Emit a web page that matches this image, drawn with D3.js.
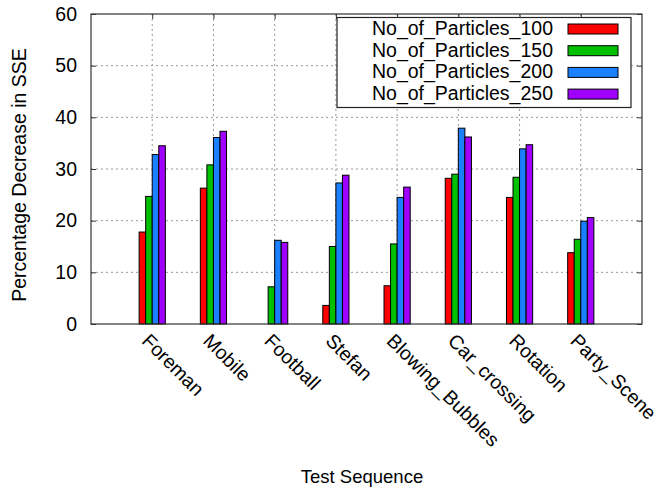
<!DOCTYPE html>
<html>
<head>
<meta charset="utf-8">
<script src="https://cdn.jsdelivr.net/npm/d3@7"></script>
<style>
  body { margin: 0; background: #fff; }
  svg text { font-family: "Liberation Sans", Arial, sans-serif; fill: #000; }
</style>
</head>
<body>
<div id="chart-area"></div>
<script>
// categories and series
var sequences = ["Foreman", "Mobile", "Football", "Stefan", "Blowing_Bubbles", "Car_crossing", "Rotation", "Party_Scene"];
var seriesNames = ["No_of_Particles_100", "No_of_Particles_150", "No_of_Particles_200", "No_of_Particles_250"];
var seriesColors = ["#ff0000", "#00c000", "#1a80ff", "#a000ff"];

var p100 = [17.8, 26.3, 0, 3.6, 7.4, 28.2, 24.5, 13.8];
var p150 = [24.7, 30.8, 7.2, 15.0, 15.5, 29.0, 28.4, 16.4];
var p200 = [32.8, 36.1, 16.2, 27.3, 24.5, 37.9, 33.9, 19.9];
var p250 = [34.5, 37.3, 15.8, 28.8, 26.5, 36.2, 34.7, 20.6];

var yTicks = [0, 10, 20, 30, 40, 50, 60];

var seriesValues = [p100, p150, p200, p250];

// sizes
var margin = { top: 14, left: 91, bottom: 169, right: 18 };
var svgWidth = 660;
var svgHeight = 493;
var width = svgWidth - margin.left - margin.right;
var height = svgHeight - margin.top - margin.bottom;

var svg = d3.select("#chart-area").append("svg")
            .attr("width", svgWidth)
            .attr("height", svgHeight);

var graph = svg.append("g")
               .attr("transform", "translate(" + margin.left + "," + margin.top + ")");

// scales: categories sit at 1..8 on a 0..9 range (gnuplot style)
var xScale = d3.scaleLinear().domain([0, sequences.length + 1]).range([0, width]);
var yScale = d3.scaleLinear().domain([0, 60]).range([height, 0]);
var barW = 0.107; // in x units

// grid
graph.append("g")
     .selectAll("line")
     .data(yTicks.filter(d => d > 0 && d < 60))
     .enter().append("line")
     .attr("x1", 0).attr("x2", width)
     .attr("y1", d => yScale(d)).attr("y2", d => yScale(d))
     .attr("stroke", "#999").attr("stroke-dasharray", "2,3");

graph.append("g")
     .selectAll("line")
     .data(sequences)
     .enter().append("line")
     .attr("x1", (d, i) => xScale(i + 1)).attr("x2", (d, i) => xScale(i + 1))
     .attr("y1", 0).attr("y2", height)
     .attr("stroke", "#999").attr("stroke-dasharray", "2,3");

// bars (zero values are not drawn)
seriesValues.forEach(function(vals, s) {
	var pts = vals.map((v, i) => ({ v: v, i: i })).filter(d => d.v > 0);
	graph.append("g")
		 .selectAll("rect")
		 .data(pts)
		 .enter().append("rect")
		 .attr("x", d => xScale(d.i + 1 + (s - 2) * barW))
		 .attr("y", d => yScale(d.v))
		 .attr("width", xScale(barW) - xScale(0))
		 .attr("height", d => yScale(0) - yScale(d.v))
		 .attr("fill", seriesColors[s])
		 .attr("stroke", "#000")
		 .attr("stroke-width", 1);
});

// axes
var yAxisCall = d3.axisLeft(yScale).tickValues(yTicks).tickSizeInner(-5).tickSizeOuter(0).tickPadding(14);
var yAxis = graph.append("g").attr("class", "y-axis").call(yAxisCall);
yAxis.select(".domain").remove();
yAxis.selectAll("line").attr("stroke", "#333");
yAxis.selectAll("text").attr("font-size", "19.5px").attr("fill", "#000")
     .style("font-family", "Liberation Sans, Arial, sans-serif");

var yRight = graph.append("g").attr("transform", "translate(" + width + ",0)")
                  .call(d3.axisRight(yScale).tickValues(yTicks).tickSizeInner(-5).tickSizeOuter(0).tickFormat(""));
yRight.select(".domain").remove();
yRight.selectAll("line").attr("stroke", "#333");

var xTop = graph.append("g")
                .call(d3.axisTop(xScale).tickValues(d3.range(1, sequences.length + 1)).tickSizeInner(-5).tickSizeOuter(0).tickFormat(""));
xTop.select(".domain").remove();
xTop.selectAll("line").attr("stroke", "#333");

var xAxisCall = d3.axisBottom(xScale)
                  .tickValues(d3.range(1, sequences.length + 1))
                  .tickSizeInner(0).tickSizeOuter(0)
                  .tickFormat(d => sequences[d - 1]);
var xAxis = graph.append("g").attr("class", "x-axis")
                 .attr("transform", "translate(0," + height + ")")
                 .call(xAxisCall);
xAxis.select(".domain").remove();
xAxis.selectAll("text")
     .attr("x", 0).attr("y", 0).attr("dy", 0)
     .attr("text-anchor", "start")
     .attr("transform", "translate(-12,18) rotate(45)")
     .attr("font-size", "19.5px").attr("fill", "#000")
     .style("font-family", "Liberation Sans, Arial, sans-serif");

// border
graph.append("rect")
     .attr("width", width).attr("height", height)
     .attr("fill", "none").attr("stroke", "#333").attr("stroke-width", 1.2);

// axis labels
svg.append("text")
   .attr("transform", "translate(26,175) rotate(-90)")
   .attr("text-anchor", "middle")
   .attr("font-size", "19.5px")
   .text("Percentage Decrease in SSE");

svg.append("text")
   .attr("x", 362).attr("y", 483)
   .attr("text-anchor", "middle")
   .attr("font-size", "18.5px")
   .text("Test Sequence");

// legend
var legend = svg.append("g");
legend.append("rect")
      .attr("x", 337).attr("y", 17.5).attr("width", 294).attr("height", 90)
      .attr("fill", "#fff").attr("stroke", "#222").attr("stroke-width", 1.2);

var rows = legend.selectAll("g.row")
                 .data(seriesNames)
                 .enter().append("g")
                 .attr("class", "row")
                 .attr("transform", (d, i) => "translate(0," + (35 + i * 21.7) + ")");
rows.append("text")
    .attr("x", 553).attr("y", 0)
    .attr("text-anchor", "end")
    .attr("font-size", "19.5px")
    .text(d => d);
rows.append("rect")
    .attr("x", 568).attr("y", -11).attr("width", 50).attr("height", 10)
    .attr("fill", (d, i) => seriesColors[i])
    .attr("stroke", "#000");
</script>
</body>
</html>
